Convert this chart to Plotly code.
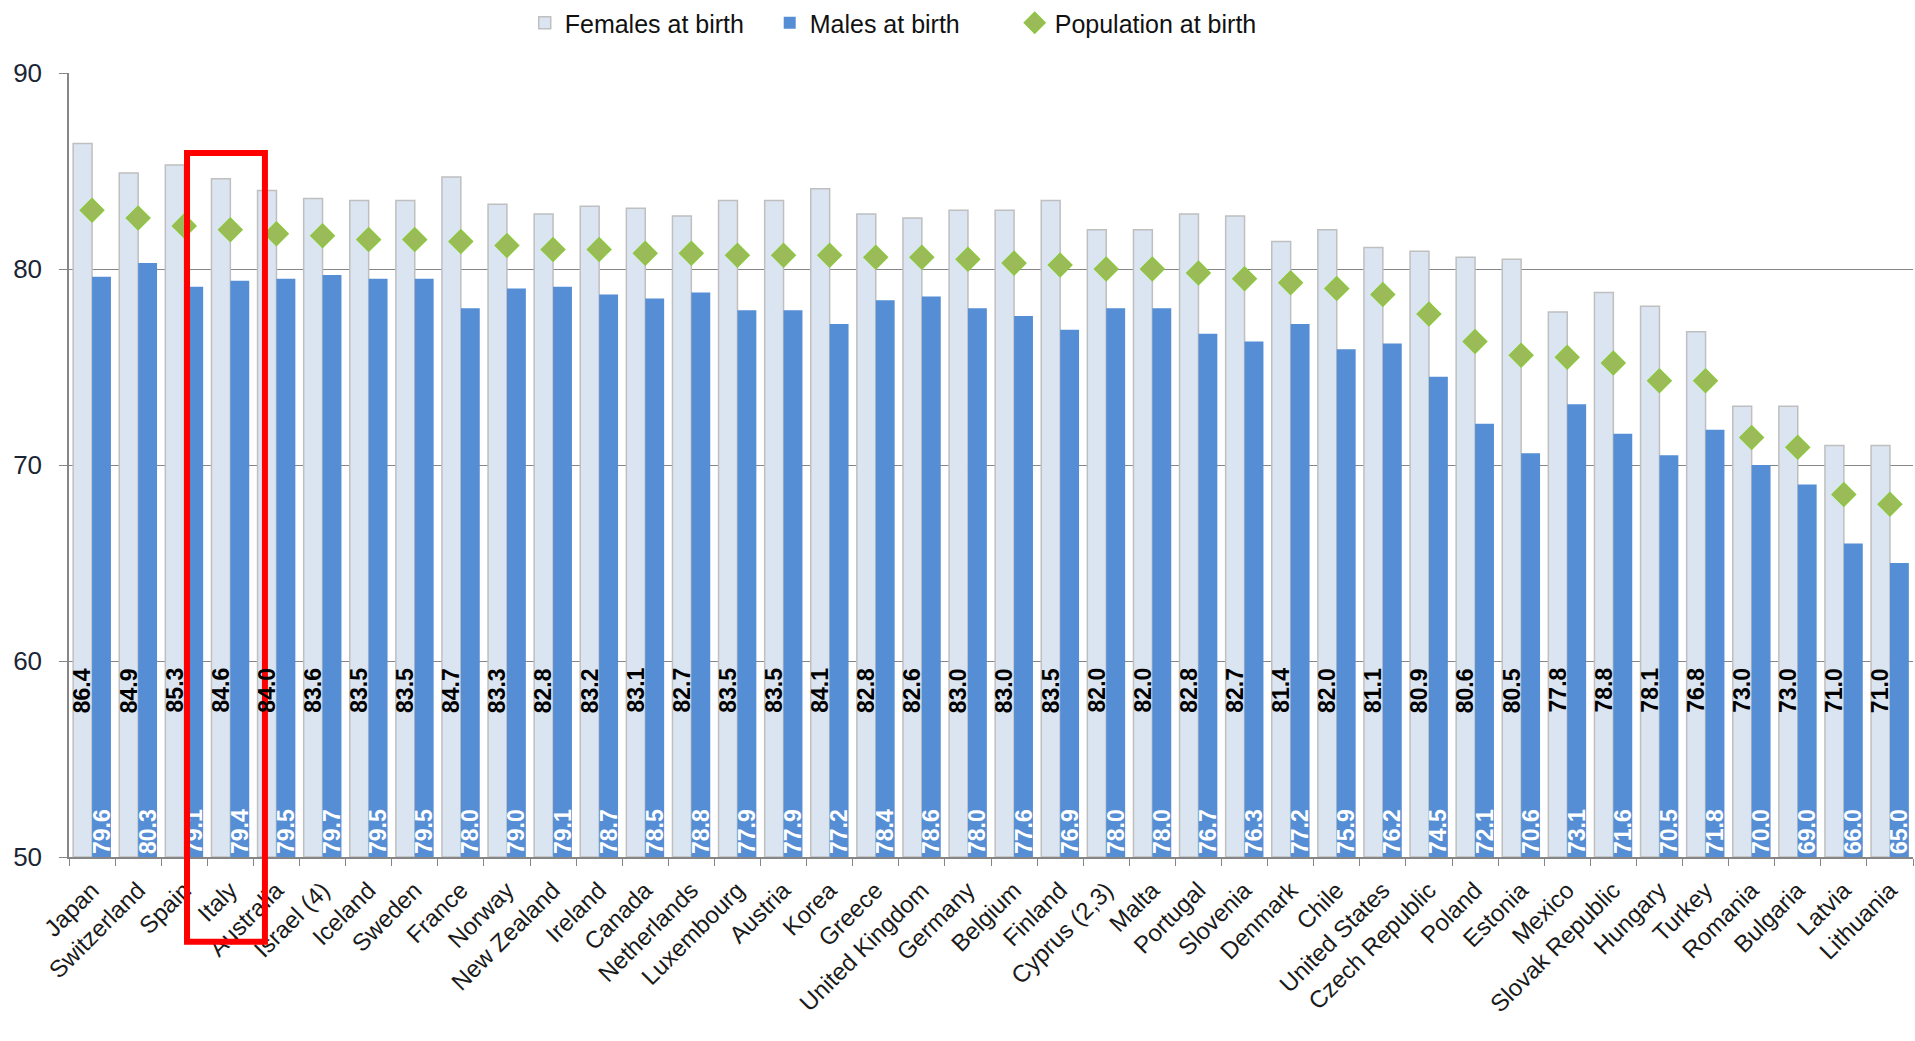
import plotly.graph_objects as go

countries = ["Japan", "Switzerland", "Spain", "Italy", "Australia", "Israel (4)", "Iceland",
             "Sweden", "France", "Norway", "New Zealand", "Ireland", "Canada", "Netherlands",
             "Luxembourg", "Austria", "Korea", "Greece", "United Kingdom", "Germany", "Belgium",
             "Finland", "Cyprus (2,3)", "Malta", "Portugal", "Slovenia", "Denmark", "Chile",
             "United States", "Czech Republic", "Poland", "Estonia", "Mexico", "Slovak Republic",
             "Hungary", "Turkey", "Romania", "Bulgaria", "Latvia", "Lithuania"]

females = [86.4, 84.9, 85.3, 84.6, 84.0, 83.6, 83.5, 83.5, 84.7, 83.3, 82.8, 83.2, 83.1, 82.7,
           83.5, 83.5, 84.1, 82.8, 82.6, 83.0, 83.0, 83.5, 82.0, 82.0, 82.8, 82.7, 81.4, 82.0,
           81.1, 80.9, 80.6, 80.5, 77.8, 78.8, 78.1, 76.8, 73.0, 73.0, 71.0, 71.0]

males = [79.6, 80.3, 79.1, 79.4, 79.5, 79.7, 79.5, 79.5, 78.0, 79.0, 79.1, 78.7, 78.5, 78.8,
         77.9, 77.9, 77.2, 78.4, 78.6, 78.0, 77.6, 76.9, 78.0, 78.0, 76.7, 76.3, 77.2, 75.9,
         76.2, 74.5, 72.1, 70.6, 73.1, 71.6, 70.5, 71.8, 70.0, 69.0, 66.0, 65.0]

population = [83.0, 82.6, 82.2, 82.0, 81.8, 81.7, 81.5, 81.5, 81.4, 81.2, 81.0, 81.0, 80.8, 80.8,
              80.7, 80.7, 80.7, 80.6, 80.6, 80.5, 80.3, 80.2, 80.0, 80.0, 79.8, 79.5, 79.3, 79.0,
              78.7, 77.7, 76.3, 75.6, 75.5, 75.2, 74.3, 74.3, 71.4, 70.9, 68.5, 68.0]

y_ticks = [50, 60, 70, 80, 90]
highlight = "Italy"

# ---- style constants ----
BASE = 50
LABEL_Y = 58.5
GRID = "#868686"
FONT = "Liberation Sans, Arial, sans-serif"
NARROW = "Liberation Sans Narrow, Arial Narrow, Liberation Sans, Arial, sans-serif"

fig = go.Figure()
fig.add_bar(
    name="Females at birth", x=countries, y=[v - BASE for v in females], base=BASE,
    customdata=females, hovertemplate="%{x}: %{customdata}<extra></extra>",
    marker=dict(color="#dbe5f1", line=dict(color="#bfbfbf", width=1.5)),
)
fig.add_bar(
    name="Males at birth", x=countries, y=[v - BASE for v in males], base=BASE,
    customdata=males, hovertemplate="%{x}: %{customdata}<extra></extra>",
    marker=dict(color="#558ed5", line=dict(width=0)),
    text=[f"{v:.1f}" for v in males], textposition="inside", insidetextanchor="start",
    textangle=-90, constraintext="none",
    textfont=dict(color="white", size=23, family=FONT, weight="bold"),
)
fig.add_scatter(
    name="Population at birth", x=countries, y=population, mode="markers",
    marker=dict(symbol="diamond", size=18, color="#9bbb59", line=dict(color="#8dc63f", width=1.5)),
)

# female value labels (rotated)
for i, v in enumerate(females):
    fig.add_annotation(
        x=i - 0.2, y=LABEL_Y, xref="x", yref="y", text=f"{v:.1f}", showarrow=False,
        textangle=-90, font=dict(size=23, color="#000000", family=FONT, weight="bold"),
    )

# red highlight box around Italy
hi = countries.index(highlight)
fig.add_shape(
    type="rect", xref="x", yref="paper", x0=hi - 0.94, x1=hi + 0.75, y0=-0.108, y1=0.898,
    line=dict(color="#ff0000", width=6), fillcolor="rgba(0,0,0,0)", layer="above",
)

fig.update_layout(
    width=1915, height=1041,
    margin=dict(l=69, r=2, t=73, b=184),
    paper_bgcolor="white", plot_bgcolor="white",
    barmode="group", bargap=0.18, bargroupgap=0.0,
    font=dict(family=FONT, color="#1a1a1a"),
    showlegend=True,
    legend=dict(
        orientation="h", xref="container", yref="container", x=0.274, y=1.0,
        xanchor="left", yanchor="top", font=dict(size=25, family=NARROW, color="#111111"),
        itemclick=False, traceorder="normal", entrywidth=200, entrywidthmode="pixels",
    ),
    xaxis=dict(
        type="category", range=[-0.5, len(countries) - 0.5],
        tickangle=-45, tickfont=dict(size=24, family=FONT, color="#1a1a1a"),
        showline=True, linecolor=GRID, linewidth=1.5, ticks="outside", tickson="boundaries",
        ticklen=7, tickcolor=GRID, showgrid=False, automargin=False, ticklabelstandoff=8,
    ),
    yaxis=dict(
        range=[50, 90], tickvals=y_ticks, ticks="outside", ticklen=8, tickcolor=GRID,
        showline=True, linecolor=GRID, linewidth=1.5, showgrid=True, gridcolor=GRID,
        gridwidth=1.2, zeroline=False, tickfont=dict(size=26, family=FONT, color="#1c2434"),
        automargin=False, ticklabelstandoff=12,
    ),
)

fig.write_html("out.html")
